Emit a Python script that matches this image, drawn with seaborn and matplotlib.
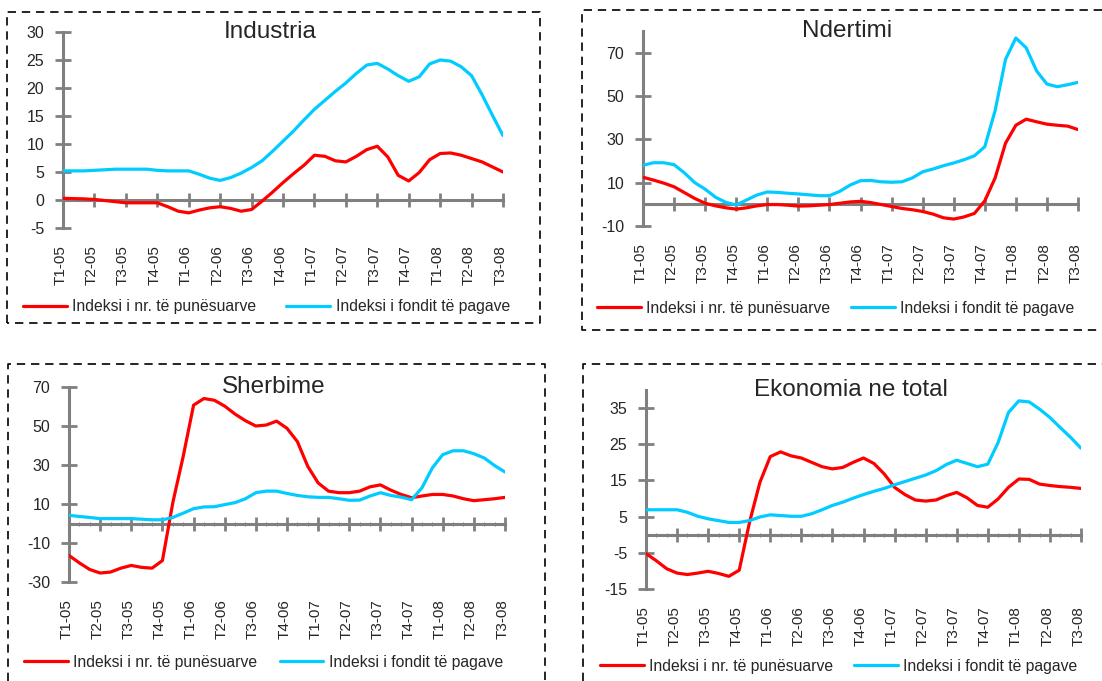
import numpy as np
import pandas as pd
import matplotlib
matplotlib.use("Agg")
import matplotlib.pyplot as plt
import seaborn as sns
from matplotlib.lines import Line2D

# quarter labels, one point per month (T1-05 ... T3-08)
quarters = ["T1-05", "T2-05", "T3-05", "T4-05", "T1-06", "T2-06", "T3-06", "T4-06",
            "T1-07", "T2-07", "T3-07", "T4-07", "T1-08", "T2-08", "T3-08"]
months = list(range(43))

industria_pun = [0.3, 0.25, 0.2, 0.1, -0.1, -0.3, -0.5, -0.5, -0.5, -0.5,
                 -1.2, -2.0, -2.3, -1.8, -1.4, -1.2, -1.5, -2.0, -1.7, -0.2,
                 1.4, 3.1, 4.7, 6.2, 8.0, 7.8, 7.0, 6.8, 7.8, 9.0,
                 9.6, 7.7, 4.4, 3.4, 4.9, 7.2, 8.3, 8.4, 8.0, 7.4,
                 6.8, 5.9, 5.0]
industria_pag = [5.2, 5.2, 5.2, 5.3, 5.4, 5.5, 5.5, 5.5, 5.5, 5.3,
                 5.2, 5.2, 5.2, 4.6, 3.9, 3.5, 4.0, 4.8, 5.8, 7.0,
                 8.7, 10.5, 12.3, 14.3, 16.2, 17.8, 19.4, 20.9, 22.6, 24.1,
                 24.4, 23.4, 22.2, 21.2, 22.0, 24.3, 25.0, 24.8, 23.8, 22.2,
                 18.8, 15.1, 11.5]

ndertimi_pun = [12.5, 11.2, 9.8, 8.1, 5.4, 2.7, 0.5, -0.7, -1.6, -2.2,
                -1.6, -0.7, -0.1, -0.1, -0.4, -0.8, -0.7, -0.4, -0.1, 0.5,
                1.1, 1.4, 0.8, -0.1, -1.0, -1.9, -2.5, -3.3, -4.5, -6.2,
                -6.8, -5.8, -4.2, 1.6, 12.2, 28.2, 36.5, 39.3, 38.1, 37.0,
                36.5, 36.1, 34.5]
ndertimi_pag = [18.0, 19.2, 19.2, 18.3, 14.5, 10.0, 7.0, 3.3, 0.9, -0.3,
                2.0, 4.3, 5.7, 5.5, 5.1, 4.8, 4.4, 4.0, 4.0, 6.0,
                8.9, 10.9, 11.0, 10.4, 10.2, 10.4, 12.2, 15.0, 16.3, 17.8,
                19.1, 20.6, 22.4, 26.6, 43.3, 66.9, 76.8, 72.2, 61.6, 55.5,
                54.3, 55.2, 56.3]

sherbime_pun = [-16.4, -20.2, -23.6, -25.4, -24.9, -22.9, -21.5, -22.5, -22.9, -19.0,
                10.7, 34.4, 60.7, 64.1, 63.2, 60.2, 56.1, 52.7, 50.0, 50.5,
                52.5, 48.8, 42.0, 29.3, 20.8, 16.6, 15.8, 15.8, 16.6, 18.8,
                19.8, 17.1, 14.9, 13.2, 14.1, 14.9, 14.9, 14.1, 12.7, 11.7,
                12.2, 12.7, 13.4]
sherbime_pag = [4.2, 3.6, 3.1, 2.5, 2.5, 2.5, 2.5, 2.2, 1.9, 1.9,
                3.1, 5.3, 7.6, 8.5, 8.6, 9.7, 10.7, 12.7, 15.8, 16.6,
                16.6, 15.4, 14.4, 13.7, 13.4, 13.4, 12.7, 11.9, 12.0, 14.1,
                15.8, 14.4, 13.5, 12.2, 18.3, 28.5, 35.3, 37.3, 37.3, 35.8,
                33.6, 29.7, 26.4]

ekonomia_pun = [-5.2, -7.2, -9.4, -10.6, -11.0, -10.6, -10.1, -10.7, -11.5, -9.8,
                3.5, 14.5, 21.6, 22.9, 21.8, 21.2, 20.0, 18.8, 18.2, 18.6,
                20.0, 21.2, 19.7, 16.8, 13.1, 11.1, 9.6, 9.3, 9.6, 10.8,
                11.7, 10.2, 8.1, 7.6, 9.9, 13.1, 15.4, 15.3, 14.0, 13.6,
                13.3, 13.1, 12.8]
ekonomia_pag = [6.9, 6.9, 6.9, 6.9, 6.2, 5.1, 4.4, 3.9, 3.4, 3.4,
                3.9, 4.9, 5.5, 5.3, 5.1, 5.1, 5.8, 6.9, 8.1, 9.0,
                10.1, 11.1, 12.0, 12.8, 13.8, 14.7, 15.6, 16.5, 17.7, 19.4,
                20.6, 19.7, 18.8, 19.5, 25.5, 33.8, 37.0, 36.7, 34.7, 32.4,
                29.6, 26.9, 23.9]

lab_pun = "Indeksi i nr. të punësuarve"
lab_pag = "Indeksi i fondit të pagave"

W, H = 1102, 681
RED = "#FF0000"
CYAN = "#00CCFF"
GRAY = "#808080"

sns.set_style("white")
plt.rcParams["font.family"] = ["Liberation Sans", "DejaVu Sans"]
plt.rcParams["axes.unicode_minus"] = False

fig = plt.figure(figsize=(W / 100, H / 100), dpi=100)


def px_rect(x0, x1, y0, y1):
    return [x0 / W, 1 - y1 / H, (x1 - x0) / W, (y1 - y0) / H]


def dashed(xs, ys):
    fig.add_artist(Line2D([x / W for x in xs], [1 - y / H for y in ys],
                          transform=fig.transFigure, color="black", lw=1.2,
                          linestyle=(0, (5, 3.5))))


# dashed frames round each panel
dashed([7, 7, 540, 540, 7], [323, 12, 12, 323, 323])
dashed([1102, 582, 582, 1102], [10, 10, 330, 330])
dashed([8, 8, 545, 545], [681, 364, 364, 681])
dashed([583, 583, 1102], [681, 364, 364])

panels = [
    dict(title="Industria", pun=industria_pun, pag=industria_pag,
         ylim=(-5, 30), yticks=range(-5, 31, 5), rect=(63, 503, 32, 228),
         minor=False, leg=(23, 307), colsp=1.9),
    dict(title="Ndertimi", pun=ndertimi_pun, pag=ndertimi_pag,
         ylim=(-10, 80), yticks=range(-10, 71, 20), rect=(643, 1078, 31, 226),
         minor=False, leg=(597, 308), colsp=1.3),
    dict(title="Sherbime", pun=sherbime_pun, pag=sherbime_pag,
         ylim=(-30, 70), yticks=range(-30, 71, 20), rect=(69, 505, 387, 582),
         minor=True, leg=(24, 662), colsp=1.4),
    dict(title="Ekonomia ne total", pun=ekonomia_pun, pag=ekonomia_pag,
         ylim=(-15, 40), yticks=range(-15, 36, 10), rect=(646, 1081, 390, 589),
         minor=True, leg=(600, 666), colsp=1.3),
]

for p in panels:
    ax = fig.add_axes(px_rect(*p["rect"]))
    df = pd.DataFrame({
        "muaji": months + months,
        "vlera": p["pun"] + p["pag"],
        "seria": [lab_pun] * len(months) + [lab_pag] * len(months),
    })
    sns.lineplot(data=df, x="muaji", y="vlera", hue="seria",
                 palette=[RED, CYAN], linewidth=2.3, legend=False, ax=ax)
    for ln in ax.lines:
        ln.set_zorder(3)
        ln.set_solid_joinstyle("round")

    ax.set_xlim(0, 42)
    ax.set_ylim(*p["ylim"])
    ax.set_xlabel("")
    ax.set_ylabel("")
    ax.set_yticks(list(p["yticks"]))
    ax.set_xticks(range(0, 43, 3))

    for s in ["top", "right"]:
        ax.spines[s].set_visible(False)
    ax.spines["left"].set_color(GRAY)
    ax.spines["left"].set_linewidth(2.2)
    ax.spines["bottom"].set_position(("data", 0))
    ax.spines["bottom"].set_color(GRAY)
    ax.spines["bottom"].set_linewidth(2.2)

    ax.tick_params(axis="x", which="major", bottom=True, direction="inout",
                   length=10, width=2, color=GRAY, labelbottom=False)
    ax.tick_params(axis="y", which="major", left=True, direction="inout",
                   length=11, width=2, color=GRAY, labelsize=11.5, pad=8)
    if p["minor"]:
        ax.set_xticks(months, minor=True)
        ax.tick_params(axis="x", which="minor", bottom=True, direction="inout",
                       length=3, width=0.6, color="#666666")

    # quarter labels sit under the plot, not at the zero line
    for i, q in enumerate(quarters):
        ax.annotate(q, xy=(i * 3, 0), xycoords=("data", "axes fraction"),
                    xytext=(-2, -12.5), textcoords="offset points",
                    rotation=90, ha="center", va="top", fontsize=11)

    ax.text(0.47, 1.0, p["title"], transform=ax.transAxes,
            ha="center", va="center", fontsize=17.5)

    handles = [Line2D([], [], color=RED, lw=2.3), Line2D([], [], color=CYAN, lw=2.3)]
    lx, ly = p["leg"]
    ax.legend(handles, [lab_pun, lab_pag], loc="center left",
              bbox_to_anchor=(lx / W, 1 - ly / H), bbox_transform=fig.transFigure,
              ncol=2, frameon=False, fontsize=11.3, handlelength=2.8,
              handletextpad=0.35, columnspacing=p["colsp"], borderpad=0,
              borderaxespad=0)

fig.savefig("out.png", dpi=100)
